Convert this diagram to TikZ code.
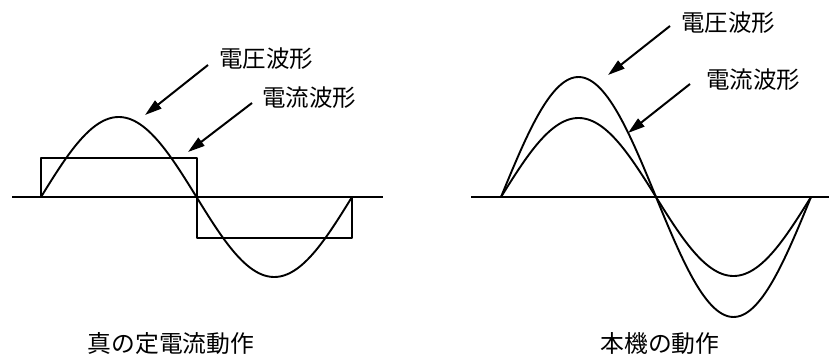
\documentclass[tikz,border=0pt]{standalone}
\usepackage{fontspec}
\newfontfamily\cjk{Noto Sans CJK JP}
\usetikzlibrary{arrows.meta}
\tikzset{
  wave/.style={line width=1.9pt, line join=round},
  axisline/.style={line width=1.9pt},
  lbl/.style={font=\cjk\fontsize{23.5}{25}\selectfont, inner sep=0pt, anchor=center},
  captionlbl/.style={font=\cjk\fontsize{23.8}{25}\selectfont, inner sep=0pt, anchor=center},
  pointer/.style={line width=2pt, -{Triangle[length=17pt,width=10pt]}}
}
\begin{document}
\begin{tikzpicture}[x=1pt,y=-1pt]
\useasboundingbox (0,0) rectangle (829,358);
% ---------- left panel ----------
\coordinate (la0) at (12,197);
\coordinate (la1) at (383,197);
\draw[axisline] (la0) -- (la1);
\draw[wave] plot[domain=0:360, samples=120, smooth] ({41+\x/360*311},{197-80*sin(\x)});
\draw[wave] (41,197) -- (41,158) -- (197,158) -- (197,238) -- (352,238) -- (352,197);
\node[lbl] (lv) at (266,59) {電圧波形};
\node[lbl] (li) at (309,98) {電流波形};
\coordinate (lvs) at (208,65);
\coordinate (lvt) at (145,115);
\coordinate (lis) at (252,103);
\coordinate (lit) at (188,152);
\draw[pointer] (lvs) -- (lvt);
\draw[pointer] (lis) -- (lit);
\node[captionlbl] (lc) at (171,344) {真の定電流動作};
% ---------- right panel ----------
\coordinate (ra0) at (471,197);
\coordinate (ra1) at (829,197);
\draw[axisline] (ra0) -- (ra1);
\draw[wave] plot[domain=0:360, samples=120, smooth] ({501+\x/360*310},{197-120*sin(\x)});
\draw[wave] plot[domain=0:360, samples=120, smooth] ({501+\x/360*310},{197-79*sin(\x)});
\node[lbl] (rv) at (728,23) {電圧波形};
\node[lbl] (ri) at (753,80) {電流波形};
\coordinate (rvs) at (670,26);
\coordinate (rvt) at (608,75);
\coordinate (ris) at (690,84);
\coordinate (rit) at (628,133);
\draw[pointer] (rvs) -- (rvt);
\draw[pointer] (ris) -- (rit);
\node[captionlbl] (rc) at (660,344) {本機の動作};
\end{tikzpicture}
\end{document}
